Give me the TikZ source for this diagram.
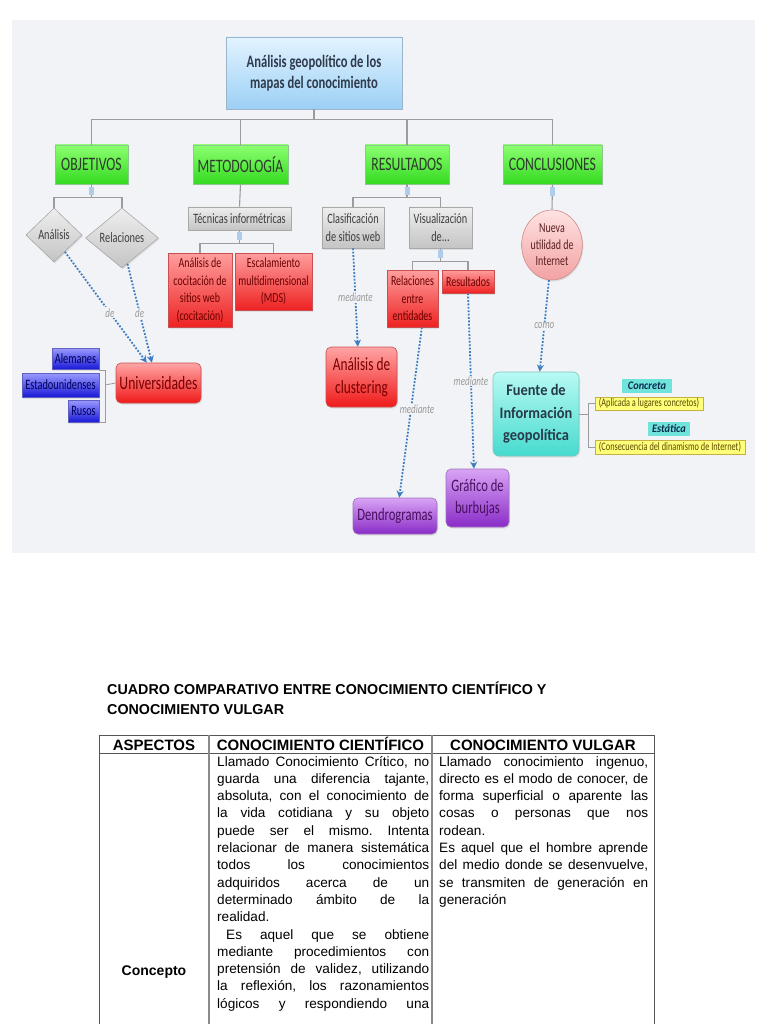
\documentclass[tikz,border=0pt]{standalone}
\usepackage{fontspec}
\setmainfont{Liberation Sans}
\newfontfamily\mapfont[FakeStretch=0.8]{Carlito}
\newfontfamily\mapfontn[FakeStretch=0.72]{Carlito}
\newfontfamily\mapfontw[FakeStretch=0.9]{Carlito}
\usetikzlibrary{shapes.geometric,arrows.meta,shadows}
\frenchspacing
\definecolor{bgc}{HTML}{F2F3F6}
\definecolor{ttlT}{HTML}{E2F3FF}
\definecolor{ttlB}{HTML}{9CD0F5}
\definecolor{ttlD}{HTML}{9AB4CA}
\definecolor{ttlTx}{HTML}{2F3B4C}
\definecolor{grnT}{HTML}{8CFF70}
\definecolor{grnB}{HTML}{34DA20}
\definecolor{grnD}{HTML}{8CC88C}
\definecolor{grnTx}{HTML}{2E3A2E}
\definecolor{gryT}{HTML}{EEEEEE}
\definecolor{gryB}{HTML}{C4C4C4}
\definecolor{gryD}{HTML}{A8A8A8}
\definecolor{gryTx}{HTML}{3E3E3E}
\definecolor{redT}{HTML}{FF9E9E}
\definecolor{redB}{HTML}{EE2222}
\definecolor{redD}{HTML}{C85050}
\definecolor{redTx}{HTML}{6A0000}
\definecolor{bredT}{HTML}{FFA4A4}
\definecolor{bredB}{HTML}{F01A1A}
\definecolor{bredTx}{HTML}{7A0000}
\definecolor{bluT}{HTML}{9A9AFF}
\definecolor{bluB}{HTML}{1A1AD8}
\definecolor{bluD}{HTML}{6060C0}
\definecolor{bluTx}{HTML}{000058}
\definecolor{purT}{HTML}{D8A4F4}
\definecolor{purB}{HTML}{8A2CC8}
\definecolor{purD}{HTML}{A070C0}
\definecolor{purTx}{HTML}{4A1060}
\definecolor{nueT}{HTML}{FFE2E2}
\definecolor{nueB}{HTML}{F2A2A2}
\definecolor{nueD}{HTML}{D08888}
\definecolor{nueTx}{HTML}{5A2020}
\definecolor{cyT}{HTML}{B8FAF4}
\definecolor{cyB}{HTML}{46DACE}
\definecolor{cyD}{HTML}{80C8C0}
\definecolor{cyTx}{HTML}{263A4A}
\definecolor{cyTag}{HTML}{70E4DA}
\definecolor{tagTx}{HTML}{0A2A50}
\definecolor{ylF}{HTML}{FFFF7A}
\definecolor{ylD}{HTML}{C8B040}
\definecolor{ylTx}{HTML}{5A4A00}
\definecolor{lnC}{HTML}{9C9C9C}
\definecolor{mkC}{HTML}{AFCDEA}
\definecolor{dotC}{HTML}{3B7DC4}
\definecolor{lblC}{HTML}{9A9A9A}
\definecolor{tblC}{HTML}{555555}
\definecolor{tblI}{HTML}{8A8A8A}
\newcommand\jline[1]{\hbox to \linewidth{#1}}
\newcommand\lline[1]{\hbox to \linewidth{#1\hfil}}
\begin{document}
\begin{tikzpicture}[x=1pt,y=-1pt,
  box/.style={draw, line width=0.6pt, inner sep=0pt, align=center,
    drop shadow={opacity=0.18, shadow xshift=1pt, shadow yshift=-1.5pt}},
  ttlbox/.style={box, top color=ttlT, bottom color=ttlB, draw=ttlD, text=ttlTx,
    font=\mapfontn\bfseries\fontsize{17.5}{21}\selectfont},
  green/.style={box, top color=grnT, bottom color=grnB, draw=grnD, text=grnTx,
    font=\mapfontn\fontsize{19}{21}\selectfont},
  gray/.style={box, top color=gryT, bottom color=gryB, draw=gryD, text=gryTx,
    font=\mapfontn\fontsize{14.3}{17.5}\selectfont},
  diam/.style={gray, shape=diamond},
  redsm/.style={box, top color=redT, bottom color=redB, draw=redD, text=redTx,
    font=\mapfontn\fontsize{13.8}{17.5}\selectfont},
  bigred/.style={box, rounded corners=5pt, top color=bredT, bottom color=bredB, draw=redD, text=bredTx},
  blue/.style={box, top color=bluT, bottom color=bluB, draw=bluD, text=bluTx,
    font=\mapfontn\fontsize{14.3}{15}\selectfont},
  purple/.style={box, rounded corners=5pt, top color=purT, bottom color=purB, draw=purD, text=purTx,
    font=\mapfontn\fontsize{17.5}{22}\selectfont},
  nueva/.style={box, shape=ellipse, top color=nueT, bottom color=nueB, draw=nueD, text=nueTx,
    font=\mapfontn\fontsize{13.8}{16.5}\selectfont},
  fuente/.style={box, rounded corners=6pt, top color=cyT, bottom color=cyB, draw=cyD, text=cyTx,
    font=\mapfontw\bfseries\fontsize{16}{22.5}\selectfont},
  tag/.style={inner sep=0pt, fill=cyTag, text=tagTx,
    font=\mapfontw\bfseries\itshape\fontsize{11.5}{13}\selectfont},
  note/.style={draw=ylD, fill=ylF, line width=0.5pt, inner sep=0pt, text=ylTx,
    font=\mapfontn\fontsize{11.5}{12}\selectfont},
  conn/.style={draw=lnC, line width=1.1pt},
  brk/.style={draw=lnC, line width=0.8pt},
  dotarrow/.style={draw=dotC, line width=1.8pt, dash pattern=on 1.8pt off 1.6pt,
    -{Stealth[length=7pt,width=7pt]}},
  lbl/.style={fill=bgc, inner sep=1pt, text=lblC, font=\mapfontn\itshape\fontsize{12.5}{13}\selectfont},
  hdr/.style={inner sep=0pt, anchor=base, font=\bfseries\fontsize{15}{17}\selectfont},
  tbl/.style={draw=tblC, line width=0.9pt},
  tbli/.style={draw=tblI, line width=1.1pt}
]
\useasboundingbox (0,0) rectangle (768,1024);
\fill[white] (0,0) rectangle (768,1024);
\fill[bgc] (12,20) rectangle (755,553);

% ---------- mind map nodes ----------
\node[ttlbox, minimum width=176pt, minimum height=72pt] (ttl) at (314,73) {Análisis geopolítico de los\\mapas del conocimiento};

\node[green, minimum width=73pt, minimum height=39pt] (obj) at (91.5,164.5) {OBJETIVOS};
\node[green, minimum width=95pt, minimum height=39pt] (met) at (240.5,164.5) {METODOLOGÍA};
\node[green, minimum width=84pt, minimum height=39pt] (res) at (407,164.5) {RESULTADOS};
\node[green, minimum width=99pt, minimum height=39pt] (con) at (552.5,164.5) {CONCLUSIONES};

\node[diam, minimum width=56pt, minimum height=54pt] (ana) at (54,235) {Análisis};
\node[diam, minimum width=73pt, minimum height=60pt] (rel) at (122,238) {Relaciones};

\node[gray, minimum width=103pt, minimum height=23pt] (tec) at (239.5,218.5) {Técnicas informétricas};
\node[gray, minimum width=62pt, minimum height=41pt] (cla) at (353,227.5) {Clasificación\\de sitios web};
\node[gray, minimum width=63pt, minimum height=41pt] (vis) at (440.5,227.5) {Visualización\\de...};

\node[redsm, minimum width=64pt, minimum height=74pt] (coc) at (200,290) {Análisis de\\cocitación de\\sitios web\\(cocitación)};
\node[redsm, minimum width=77pt, minimum height=57pt] (mds) at (273.5,281.5) {Escalamiento\\multidimensional\\(MDS)};
\node[redsm, minimum width=51pt, minimum height=57pt] (ren) at (412.5,298.5) {Relaciones\\entre\\entidades};
\node[redsm, minimum width=52pt, minimum height=23pt] (rsl) at (468,281.5) {Resultados};

\node[nueva, minimum width=60pt, minimum height=70pt] (nue) at (552,245) {Nueva\\utilidad de\\Internet};

\node[bigred, minimum width=85pt, minimum height=40pt, font=\mapfontn\fontsize{19}{21}\selectfont] (uni) at (158.5,383) {Universidades};
\node[bigred, minimum width=71pt, minimum height=60pt, font=\mapfontn\fontsize{18.5}{23}\selectfont] (clu) at (361.5,377) {Análisis de\\clustering};

\node[blue, minimum width=47pt, minimum height=21pt] (ale) at (75.5,358.5) {Alemanes};
\node[blue, minimum width=77pt, minimum height=24pt] (est) at (60.5,385) {Estadounidenses};
\node[blue, minimum width=31pt, minimum height=22pt] (rus) at (83.5,411) {Rusos};

\node[purple, minimum width=84pt, minimum height=36pt] (den) at (395,516) {Dendrogramas};
\node[purple, minimum width=63pt, minimum height=58pt] (gra) at (477.5,498) {Gráfico de\\burbujas};

\node[fuente, minimum width=86pt, minimum height=84pt] (fue) at (536,414) {Fuente de\\Información\\geopolítica};

\node[tag, minimum width=50pt, minimum height=14pt] (cnc) at (647,386) {Concreta};
\node[note, minimum width=108pt, minimum height=13pt] (apl) at (649,403.5) {(Aplicada a lugares concretos)};
\node[tag, minimum width=42pt, minimum height=14pt] (etc) at (669,429) {Estática};
\node[note, minimum width=150pt, minimum height=14pt] (csq) at (670,447) {(Consecuencia del dinamismo de Internet)};

% ---------- tree connectors ----------
\draw[conn] (ttl.south) -- ++(0,10) coordinate (hub);
\draw[conn] (obj.north) |- (hub) -| (con.north);
\draw[conn] (met.north) -- (met.north |- hub);
\draw[conn] (res.north) -- (res.north |- hub);

\draw[conn] (obj.south) -- ++(0,13) coordinate (hobj);
\draw[conn] (ana.north) |- (hobj) -| (rel.north);
\draw[conn] (met.south) -- (tec.north);
\draw[conn] (tec.south) -- ++(0,13) coordinate (htec);
\draw[conn] (coc.north) |- (htec) -| (mds.north);
\draw[conn] (res.south) -- ++(0,13) coordinate (hres);
\draw[conn] (cla.north) |- (hres) -| (vis.north);
\draw[conn] (vis.south) -- ++(0,13) coordinate (hvis);
\draw[conn] (ren.north) |- (hvis) -| (rsl.north);
\draw[conn] (con.south) -- (nue.north);

% small markers on connectors
\fill[mkC] (89,187) rectangle (94,195);
\fill[mkC] (404.5,187) rectangle (409.5,195);
\fill[mkC] (550,187) rectangle (555,196);
\fill[mkC] (237,232) rectangle (242,240);
\fill[mkC] (438,250) rectangle (443,258);

% brackets
\draw[brk] (99,370) -| (105,422) -- (99,422);
\draw[brk] (105,385) -- (uni.west);
\draw[brk] (fue.east) -- (588,414);
\draw[brk] (apl.west) -| (588,447) -- (csq.west);

% ---------- dotted relations ----------
\draw[dotarrow] (ana.-57) -- node[lbl, pos=0.55] {de} (uni.120);
\draw[dotarrow] (rel.-78) -- node[lbl, pos=0.5] {de} (uni.108);
\draw[dotarrow] (cla.south) -- node[lbl] {mediante} (clu.97);
\draw[dotarrow] (ren.-72) -- node[lbl, pos=0.48, xshift=6pt] {mediante} (den.77);
\draw[dotarrow] (rsl.south) -- node[lbl] {mediante} (gra.97);
\draw[dotarrow] (nue.-95) -- node[lbl] {como} (fue.85);

% ---------- table ----------
\node[anchor=base west, inner sep=0pt, font=\bfseries\fontsize{14.3}{20}\selectfont] (tt1) at (107,694) {CUADRO COMPARATIVO ENTRE CONOCIMIENTO CIENTÍFICO Y};
\node[anchor=base west, inner sep=0pt, font=\bfseries\fontsize{14.3}{20}\selectfont] (tt2) at (107,714) {CONOCIMIENTO VULGAR};

\draw[tbl] (99,1024) -- (99,735) -- (654,735) -- (654,1024);
\draw[tbl] (99,753) -- (654,753);
\draw[tbli] (209,735) -- (209,1024);
\draw[tbli] (432,735) -- (432,1024);

\node[hdr] (hA) at (154,750) {ASPECTOS};
\node[hdr] (hB) at (320.5,750) {CONOCIMIENTO CIENTÍFICO};
\node[hdr] (hC) at (543,750) {CONOCIMIENTO VULGAR};

\node[anchor=base, inner sep=0pt, font=\bfseries\fontsize{14}{16}\selectfont] (cpt) at (154,975) {Concepto};

\node[anchor=base west, inner sep=0pt] (c2) at (217,766) {\parbox[t]{212pt}{\fontsize{13.6}{17.3}\selectfont
\jline{Llamado Conocimiento Crítico, no}
\jline{guarda una diferencia tajante,}
\jline{absoluta, con el conocimiento de}
\jline{la vida cotidiana y su objeto}
\jline{puede ser el mismo. Intenta}
\jline{relacionar de manera sistemática}
\jline{todos los conocimientos}
\jline{adquiridos acerca de un}
\jline{determinado ámbito de la}
\lline{realidad.}
\jline{\hspace*{9pt}Es aquel que se obtiene}
\jline{mediante procedimientos con}
\jline{pretensión de validez, utilizando}
\jline{la reflexión, los razonamientos}
\jline{lógicos y respondiendo una}}};

\node[anchor=base west, inner sep=0pt] (c3) at (439,766) {\parbox[t]{209pt}{\fontsize{13.6}{17.3}\selectfont
\jline{Llamado conocimiento ingenuo,}
\jline{directo es el modo de conocer, de}
\jline{forma superficial o aparente las}
\jline{cosas o personas que nos}
\lline{rodean.}
\jline{Es aquel que el hombre aprende}
\jline{del medio donde se desenvuelve,}
\jline{se transmiten de generación en}
\lline{generación}}};
\end{tikzpicture}
\end{document}
